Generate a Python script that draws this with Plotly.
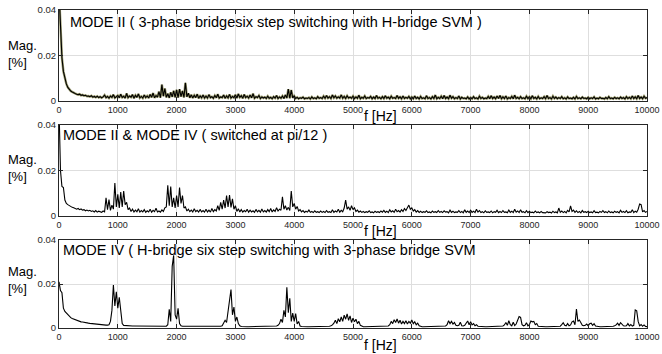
import plotly.graph_objects as go

# ---------------- data ----------------
freq_hz = list(range(0, 10001, 25))

mag_mode2 = [
    0.0480, 0.0300, 0.0190, 0.0130, 0.0095, 0.0075, 0.0060, 0.0050, 0.0044, 0.0040, 0.0035, 0.0033, 0.0030, 0.0028, 0.0030, 0.0025, 0.0027, 0.0023, 0.0025, 0.0021,
    0.0022, 0.0019, 0.0023, 0.0017, 0.0020, 0.0016, 0.0021, 0.0015, 0.0019, 0.0014, 0.0018, 0.0026, 0.0015, 0.0020, 0.0013, 0.0022, 0.0016, 0.0028, 0.0014, 0.0019,
    0.0024, 0.0014, 0.0030, 0.0016, 0.0021, 0.0013, 0.0033, 0.0015, 0.0022, 0.0017, 0.0028, 0.0012, 0.0025, 0.0016, 0.0031, 0.0014, 0.0020, 0.0013, 0.0026, 0.0015,
    0.0022, 0.0013, 0.0029, 0.0016, 0.0035, 0.0014, 0.0024, 0.0017, 0.0041, 0.0015, 0.0072, 0.0021, 0.0055, 0.0016, 0.0032, 0.0014, 0.0038, 0.0018, 0.0045, 0.0016,
    0.0049, 0.0015, 0.0052, 0.0019, 0.0044, 0.0016, 0.0080, 0.0018, 0.0034, 0.0014, 0.0027, 0.0013, 0.0025, 0.0015, 0.0030, 0.0012, 0.0022, 0.0014, 0.0026, 0.0013,
    0.0021, 0.0013, 0.0028, 0.0015, 0.0019, 0.0012, 0.0024, 0.0014, 0.0030, 0.0013, 0.0018, 0.0015, 0.0026, 0.0012, 0.0022, 0.0014, 0.0029, 0.0013, 0.0020, 0.0015,
    0.0027, 0.0013, 0.0031, 0.0016, 0.0023, 0.0012, 0.0029, 0.0015, 0.0021, 0.0013, 0.0026, 0.0014, 0.0032, 0.0012, 0.0019, 0.0015, 0.0024, 0.0011, 0.0018, 0.0013,
    0.0017, 0.0011, 0.0021, 0.0012, 0.0016, 0.0010, 0.0019, 0.0013, 0.0024, 0.0011, 0.0018, 0.0012, 0.0022, 0.0011, 0.0027, 0.0013, 0.0052, 0.0012, 0.0048, 0.0014,
    0.0022, 0.0011, 0.0016, 0.0010, 0.0014, 0.0012, 0.0017, 0.0010, 0.0013, 0.0011, 0.0015, 0.0009, 0.0018, 0.0011, 0.0014, 0.0010, 0.0019, 0.0012, 0.0015, 0.0011,
    0.0021, 0.0012, 0.0024, 0.0013, 0.0019, 0.0011, 0.0026, 0.0014, 0.0022, 0.0012, 0.0018, 0.0013, 0.0027, 0.0012, 0.0020, 0.0011, 0.0023, 0.0013, 0.0017, 0.0012,
    0.0021, 0.0011, 0.0018, 0.0012, 0.0025, 0.0010, 0.0016, 0.0012, 0.0022, 0.0011, 0.0015, 0.0013, 0.0020, 0.0010, 0.0017, 0.0011, 0.0024, 0.0012, 0.0016, 0.0010,
    0.0019, 0.0011, 0.0023, 0.0012, 0.0017, 0.0010, 0.0021, 0.0012, 0.0015, 0.0011, 0.0024, 0.0012, 0.0018, 0.0010, 0.0022, 0.0011, 0.0016, 0.0012, 0.0020, 0.0010,
    0.0017, 0.0010, 0.0022, 0.0011, 0.0016, 0.0009, 0.0020, 0.0011, 0.0014, 0.0010, 0.0023, 0.0011, 0.0015, 0.0009, 0.0019, 0.0011, 0.0026, 0.0010, 0.0016, 0.0011,
    0.0021, 0.0010, 0.0024, 0.0011, 0.0017, 0.0010, 0.0025, 0.0012, 0.0019, 0.0010, 0.0015, 0.0011, 0.0022, 0.0009, 0.0016, 0.0011, 0.0013, 0.0010, 0.0018, 0.0009,
    0.0015, 0.0010, 0.0019, 0.0011, 0.0014, 0.0009, 0.0021, 0.0011, 0.0016, 0.0010, 0.0013, 0.0011, 0.0020, 0.0010, 0.0023, 0.0011, 0.0017, 0.0010, 0.0022, 0.0011,
    0.0024, 0.0010, 0.0018, 0.0011, 0.0022, 0.0009, 0.0015, 0.0011, 0.0020, 0.0010, 0.0025, 0.0011, 0.0016, 0.0010, 0.0019, 0.0011, 0.0014, 0.0010, 0.0021, 0.0011,
    0.0018, 0.0010, 0.0023, 0.0011, 0.0016, 0.0009, 0.0020, 0.0010, 0.0014, 0.0011, 0.0019, 0.0010, 0.0024, 0.0011, 0.0015, 0.0009, 0.0021, 0.0011, 0.0017, 0.0010,
    0.0015, 0.0011, 0.0019, 0.0010, 0.0014, 0.0009, 0.0018, 0.0011, 0.0013, 0.0010, 0.0016, 0.0009, 0.0020, 0.0011, 0.0014, 0.0010, 0.0017, 0.0011, 0.0013, 0.0010,
    0.0016, 0.0010, 0.0014, 0.0011, 0.0018, 0.0009, 0.0013, 0.0010, 0.0016, 0.0011, 0.0012, 0.0009, 0.0015, 0.0010, 0.0019, 0.0011, 0.0013, 0.0010, 0.0016, 0.0011,
    0.0014, 0.0010, 0.0017, 0.0011, 0.0015, 0.0009, 0.0019, 0.0011, 0.0016, 0.0010, 0.0022, 0.0011, 0.0018, 0.0010, 0.0024, 0.0011, 0.0017, 0.0010, 0.0021, 0.0012,
    0.0015,
]

mag_mode2_4 = [
    0.0480, 0.0200, 0.0130, 0.0125, 0.0070, 0.0055, 0.0050, 0.0045, 0.0042, 0.0038, 0.0036, 0.0034, 0.0030, 0.0033, 0.0028, 0.0031, 0.0026, 0.0028, 0.0023, 0.0026,
    0.0022, 0.0025, 0.0020, 0.0023, 0.0018, 0.0024, 0.0017, 0.0021, 0.0019, 0.0016, 0.0022, 0.0018, 0.0080, 0.0028, 0.0072, 0.0025, 0.0048, 0.0030, 0.0145, 0.0040,
    0.0095, 0.0035, 0.0105, 0.0040, 0.0110, 0.0050, 0.0060, 0.0028, 0.0035, 0.0020, 0.0030, 0.0018, 0.0026, 0.0019, 0.0032, 0.0017, 0.0024, 0.0018, 0.0028, 0.0016,
    0.0023, 0.0018, 0.0030, 0.0017, 0.0025, 0.0019, 0.0034, 0.0018, 0.0022, 0.0017, 0.0027, 0.0020, 0.0036, 0.0040, 0.0135, 0.0045, 0.0130, 0.0040, 0.0080, 0.0035,
    0.0090, 0.0040, 0.0125, 0.0055, 0.0090, 0.0035, 0.0040, 0.0022, 0.0030, 0.0019, 0.0026, 0.0018, 0.0032, 0.0019, 0.0025, 0.0017, 0.0029, 0.0018, 0.0024, 0.0017,
    0.0030, 0.0018, 0.0026, 0.0017, 0.0033, 0.0019, 0.0028, 0.0022, 0.0045, 0.0025, 0.0060, 0.0030, 0.0070, 0.0035, 0.0090, 0.0040, 0.0092, 0.0038, 0.0075, 0.0030,
    0.0045, 0.0020, 0.0032, 0.0018, 0.0028, 0.0017, 0.0024, 0.0019, 0.0030, 0.0017, 0.0026, 0.0018, 0.0023, 0.0016, 0.0029, 0.0018, 0.0025, 0.0017, 0.0031, 0.0018,
    0.0024, 0.0017, 0.0028, 0.0019, 0.0033, 0.0018, 0.0027, 0.0020, 0.0036, 0.0022, 0.0030, 0.0025, 0.0084, 0.0030, 0.0045, 0.0026, 0.0038, 0.0024, 0.0110, 0.0040,
    0.0055, 0.0030, 0.0042, 0.0022, 0.0028, 0.0018, 0.0024, 0.0016, 0.0021, 0.0017, 0.0026, 0.0016, 0.0020, 0.0015, 0.0023, 0.0016, 0.0019, 0.0015, 0.0022, 0.0016,
    0.0020, 0.0015, 0.0024, 0.0016, 0.0019, 0.0015, 0.0027, 0.0016, 0.0022, 0.0018, 0.0030, 0.0017, 0.0025, 0.0019, 0.0035, 0.0070, 0.0030, 0.0040, 0.0025, 0.0045,
    0.0028, 0.0036, 0.0020, 0.0026, 0.0017, 0.0022, 0.0016, 0.0020, 0.0015, 0.0019, 0.0016, 0.0023, 0.0015, 0.0018, 0.0014, 0.0021, 0.0016, 0.0019, 0.0015, 0.0022,
    0.0017, 0.0025, 0.0016, 0.0021, 0.0015, 0.0027, 0.0018, 0.0023, 0.0016, 0.0030, 0.0019, 0.0024, 0.0017, 0.0028, 0.0020, 0.0033, 0.0024, 0.0038, 0.0048, 0.0030,
    0.0036, 0.0022, 0.0028, 0.0017, 0.0024, 0.0016, 0.0021, 0.0015, 0.0019, 0.0016, 0.0023, 0.0015, 0.0018, 0.0014, 0.0022, 0.0016, 0.0019, 0.0015, 0.0024, 0.0016,
    0.0020, 0.0015, 0.0023, 0.0017, 0.0019, 0.0014, 0.0026, 0.0016, 0.0021, 0.0015, 0.0018, 0.0016, 0.0024, 0.0015, 0.0020, 0.0014, 0.0027, 0.0016, 0.0022, 0.0015,
    0.0025, 0.0016, 0.0021, 0.0015, 0.0030, 0.0017, 0.0024, 0.0015, 0.0019, 0.0014, 0.0023, 0.0016, 0.0018, 0.0015, 0.0022, 0.0014, 0.0019, 0.0016, 0.0025, 0.0015,
    0.0020, 0.0015, 0.0024, 0.0016, 0.0018, 0.0014, 0.0026, 0.0016, 0.0021, 0.0015, 0.0030, 0.0017, 0.0022, 0.0015, 0.0027, 0.0016, 0.0019, 0.0014, 0.0023, 0.0015,
    0.0021, 0.0015, 0.0017, 0.0014, 0.0022, 0.0015, 0.0018, 0.0014, 0.0020, 0.0015, 0.0016, 0.0014, 0.0019, 0.0015, 0.0017, 0.0013, 0.0021, 0.0015, 0.0018, 0.0014,
    0.0035, 0.0016, 0.0022, 0.0015, 0.0020, 0.0014, 0.0025, 0.0018, 0.0044, 0.0020, 0.0026, 0.0016, 0.0023, 0.0015, 0.0020, 0.0014, 0.0024, 0.0016, 0.0019, 0.0015,
    0.0021, 0.0015, 0.0018, 0.0014, 0.0023, 0.0015, 0.0017, 0.0014, 0.0020, 0.0016, 0.0024, 0.0015, 0.0019, 0.0014, 0.0022, 0.0015, 0.0018, 0.0014, 0.0021, 0.0016,
    0.0019, 0.0014, 0.0025, 0.0016, 0.0020, 0.0015, 0.0023, 0.0014, 0.0018, 0.0016, 0.0027, 0.0015, 0.0021, 0.0017, 0.0030, 0.0053, 0.0050, 0.0018, 0.0024, 0.0016,
    0.0020,
]

mag_mode4 = [
    0.0210, 0.0170, 0.0160, 0.0090, 0.0075, 0.0068, 0.0058, 0.0052, 0.0047, 0.0043, 0.0040, 0.0037, 0.0034, 0.0032, 0.0030, 0.0028, 0.0027, 0.0025, 0.0024, 0.0023,
    0.0022, 0.0021, 0.0020, 0.0019, 0.0018, 0.0017, 0.0017, 0.0016, 0.0015, 0.0015, 0.0014, 0.0014, 0.0013, 0.0013, 0.0015, 0.0030, 0.0080, 0.0195, 0.0100, 0.0165,
    0.0090, 0.0140, 0.0060, 0.0020, 0.0012, 0.0011, 0.0011, 0.0010, 0.0010, 0.0010, 0.0009, 0.0009, 0.0009, 0.0009, 0.0008, 0.0008, 0.0008, 0.0008, 0.0008, 0.0008,
    0.0008, 0.0008, 0.0008, 0.0007, 0.0007, 0.0007, 0.0007, 0.0007, 0.0007, 0.0007, 0.0007, 0.0007, 0.0007, 0.0008, 0.0015, 0.0085, 0.0030, 0.0280, 0.0330, 0.0060,
    0.0040, 0.0090, 0.0020, 0.0010, 0.0008, 0.0008, 0.0007, 0.0007, 0.0007, 0.0007, 0.0006, 0.0006, 0.0006, 0.0006, 0.0006, 0.0006, 0.0006, 0.0006, 0.0006, 0.0006,
    0.0006, 0.0006, 0.0006, 0.0006, 0.0006, 0.0006, 0.0006, 0.0006, 0.0007, 0.0007, 0.0008, 0.0010, 0.0020, 0.0035, 0.0025, 0.0080, 0.0130, 0.0175, 0.0060, 0.0095,
    0.0030, 0.0050, 0.0020, 0.0010, 0.0007, 0.0006, 0.0006, 0.0006, 0.0006, 0.0006, 0.0006, 0.0006, 0.0006, 0.0006, 0.0006, 0.0006, 0.0006, 0.0006, 0.0006, 0.0006,
    0.0006, 0.0006, 0.0006, 0.0006, 0.0006, 0.0006, 0.0007, 0.0007, 0.0009, 0.0012, 0.0020, 0.0040, 0.0025, 0.0080, 0.0050, 0.0185, 0.0070, 0.0135, 0.0030, 0.0068,
    0.0030, 0.0065, 0.0018, 0.0030, 0.0009, 0.0007, 0.0006, 0.0006, 0.0006, 0.0006, 0.0006, 0.0006, 0.0006, 0.0006, 0.0006, 0.0006, 0.0006, 0.0006, 0.0006, 0.0006,
    0.0006, 0.0006, 0.0006, 0.0007, 0.0008, 0.0010, 0.0014, 0.0022, 0.0035, 0.0020, 0.0042, 0.0028, 0.0050, 0.0030, 0.0058, 0.0040, 0.0064, 0.0035, 0.0055, 0.0025,
    0.0045, 0.0028, 0.0040, 0.0020, 0.0030, 0.0012, 0.0008, 0.0006, 0.0006, 0.0006, 0.0006, 0.0006, 0.0006, 0.0006, 0.0006, 0.0006, 0.0006, 0.0006, 0.0006, 0.0006,
    0.0006, 0.0006, 0.0006, 0.0007, 0.0009, 0.0015, 0.0030, 0.0020, 0.0038, 0.0025, 0.0041, 0.0022, 0.0035, 0.0018, 0.0030, 0.0020, 0.0033, 0.0018, 0.0030, 0.0022,
    0.0036, 0.0020, 0.0028, 0.0015, 0.0022, 0.0010, 0.0007, 0.0006, 0.0006, 0.0006, 0.0006, 0.0006, 0.0006, 0.0006, 0.0006, 0.0006, 0.0006, 0.0006, 0.0006, 0.0006,
    0.0006, 0.0006, 0.0007, 0.0009, 0.0015, 0.0033, 0.0020, 0.0030, 0.0018, 0.0025, 0.0012, 0.0010, 0.0012, 0.0026, 0.0010, 0.0009, 0.0012, 0.0022, 0.0032, 0.0015,
    0.0028, 0.0014, 0.0020, 0.0010, 0.0015, 0.0008, 0.0007, 0.0006, 0.0006, 0.0006, 0.0006, 0.0006, 0.0006, 0.0006, 0.0006, 0.0006, 0.0006, 0.0006, 0.0006, 0.0006,
    0.0006, 0.0007, 0.0009, 0.0014, 0.0025, 0.0012, 0.0033, 0.0015, 0.0010, 0.0026, 0.0011, 0.0018, 0.0035, 0.0052, 0.0048, 0.0015, 0.0010, 0.0012, 0.0024, 0.0010,
    0.0015, 0.0032, 0.0028, 0.0030, 0.0015, 0.0020, 0.0008, 0.0007, 0.0006, 0.0006, 0.0006, 0.0006, 0.0006, 0.0006, 0.0006, 0.0006, 0.0006, 0.0006, 0.0006, 0.0006,
    0.0006, 0.0008, 0.0015, 0.0024, 0.0012, 0.0010, 0.0020, 0.0010, 0.0014, 0.0028, 0.0032, 0.0015, 0.0086, 0.0030, 0.0036, 0.0020, 0.0012, 0.0010, 0.0012, 0.0018,
    0.0010, 0.0020, 0.0022, 0.0012, 0.0020, 0.0009, 0.0007, 0.0006, 0.0006, 0.0006, 0.0006, 0.0006, 0.0006, 0.0006, 0.0006, 0.0006, 0.0007, 0.0008, 0.0010, 0.0014,
    0.0022, 0.0012, 0.0024, 0.0015, 0.0010, 0.0009, 0.0010, 0.0020, 0.0010, 0.0016, 0.0009, 0.0012, 0.0082, 0.0078, 0.0030, 0.0010, 0.0016, 0.0008, 0.0014, 0.0007,
    0.0006,
]

panel_titles = [
    "MODE II ( 3-phase bridgesix step switching with H-bridge SVM )",
    "MODE II & MODE IV ( switched at pi/12 )",
    "MODE IV ( H-bridge six step switching with 3-phase bridge SVM",
]
x_tickvals = [0, 1000, 2000, 3000, 4000, 5000, 6000, 7000, 8000, 9000, 10000]
x_ticktext = ["0", "1000", "2000", "3000", "4000", "5000", "6000", "7000", "8000", "9000", "10000"]
y_tickvals = [0, 0.02, 0.04]
y_ticktext = ["0", "0.02", "0.04"]
y_label = "Mag.<br>[%]"
x_label = "f [Hz]"

for arr in (mag_mode2, mag_mode2_4, mag_mode4):
    assert len(arr) == len(freq_hz), len(arr)

# ---------------- figure ----------------
FONT = "Liberation Sans, Arial, Helvetica, sans-serif"
W, H = 662, 354
ML, MR, MT, MB = 59, 15, 10, 26
plot_h = H - MT - MB

def dom(top_px, bot_px):
    return [(H - MB - bot_px) / plot_h, (H - MB - top_px) / plot_h]

domains = [dom(10, 101), dom(125, 216), dom(240, 328)]

fig = go.Figure()
series = [mag_mode2, mag_mode2_4, mag_mode4]

for i, ys in enumerate(series):
    n = "" if i == 0 else str(i + 1)
    if i == 0:
        fig.add_trace(go.Scatter(x=freq_hz, y=ys, mode="lines",
                                 line=dict(color="rgba(105,105,35,0.65)", width=2.4),
                                 xaxis="x" + n, yaxis="y" + n, showlegend=False,
                                 hoverinfo="skip"))
    fig.add_trace(go.Scatter(x=freq_hz, y=ys, mode="lines",
                             line=dict(color="black", width=1.1),
                             xaxis="x" + n, yaxis="y" + n, showlegend=False))

axis_common = dict(showline=True, linecolor="#262626", linewidth=1, mirror="ticks",
                   ticks="inside", ticklen=4, tickcolor="#262626", automargin=False,
                   showgrid=True, gridcolor="#dedede", gridwidth=1, zeroline=False,
                   tickfont=dict(family=FONT, size=9, color="#262626"))

layout = dict(width=W, height=H, margin=dict(l=ML, r=MR, t=MT, b=MB, autoexpand=False),
              paper_bgcolor="white", plot_bgcolor="white", showlegend=False,
              font=dict(family=FONT, color="black"))

for i in range(3):
    n = "" if i == 0 else str(i + 1)
    layout["xaxis" + n] = dict(axis_common, domain=[0, 1], range=[0, 10000],
                               tickvals=x_tickvals, ticktext=x_ticktext,
                               anchor="y" + n)
    layout["yaxis" + n] = dict(axis_common, domain=domains[i], range=[0, 0.04],
                               tickvals=y_tickvals, ticktext=y_ticktext,
                               tickfont=dict(family=FONT, size=9.5, color="#262626"),
                               anchor="x" + n)

fig.update_layout(**layout)

title_shift = [(9, -12), (2, -10), (2, -10)]
ylab_shift = [-44, -43, -40]
xlab_shift = [-15, -15, -17]
for i in range(3):
    n = "" if i == 0 else str(i + 1)
    fig.add_annotation(text=panel_titles[i], xref="x" + n + " domain", yref="y" + n + " domain",
                       x=0, y=1, xanchor="left", yanchor="middle",
                       xshift=title_shift[i][0], yshift=title_shift[i][1], showarrow=False,
                       font=dict(family=FONT, size=14.5, color="black"))
    fig.add_annotation(text=y_label, xref="x" + n + " domain", yref="y" + n + " domain",
                       x=0, y=1, xanchor="left", yanchor="middle", align="left",
                       xshift=-53, yshift=ylab_shift[i], showarrow=False,
                       font=dict(family=FONT, size=13, color="black"))
    fig.add_annotation(text=x_label, xref="x" + n + " domain", yref="y" + n + " domain",
                       x=0.546, y=0, xanchor="center", yanchor="middle",
                       yshift=xlab_shift[i], showarrow=False,
                       font=dict(family=FONT, size=14, color="black"))

fig.write_html("out.html", config={"displayModeBar": False},
               post_script="document.body.style.margin='0px';document.body.style.overflow='hidden';")
